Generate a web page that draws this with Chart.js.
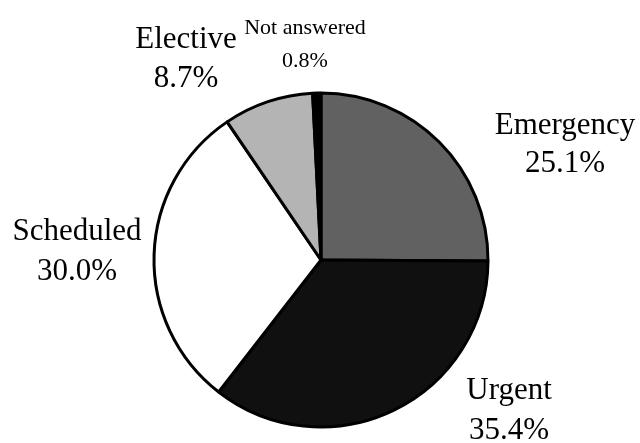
<!DOCTYPE html>
<html>
<head>
<meta charset="utf-8">
<script src="https://cdn.jsdelivr.net/npm/chart.js@4/dist/chart.umd.min.js"></script>
<style>
  html, body { margin: 0; padding: 0; background: #fff; }
  #wrap { width: 640px; height: 443px; }
</style>
</head>
<body>
<div id="wrap"><canvas id="admission-pie" width="640" height="443"></canvas></div>
<script>
// categories and shares (%), clockwise from 12 o'clock
var categories = ['Emergency', 'Urgent', 'Scheduled', 'Elective', 'Not answered'];
var shares = [25.1, 35.4, 30.0, 8.7, 0.8];
var sliceColors = ['#616161', '#101010', '#ffffff', '#b4b4b4', '#000000'];

// where each two-line label sits (centre of text) and its font size
var labelX = [565, 509, 77, 186, 305];
var labelY = [126, 391, 232, 40, 28];
var labelLineGap = [38, 40, 40, 39, 33];
var labelSize = [31, 31, 31, 31, 22];

var pieLabels = {
    id: 'pieLabels',
    afterDraw: function(chart) {
        var ctx = chart.ctx;
        ctx.save();
        ctx.fillStyle = '#000';
        ctx.textAlign = 'center';
        ctx.textBaseline = 'middle';
        categories.forEach(function(name, i) {
            ctx.font = labelSize[i] + 'px "Liberation Serif", "Times New Roman", serif';
            ctx.fillText(name, labelX[i], labelY[i]);
            ctx.fillText(shares[i].toFixed(1) + '%', labelX[i], labelY[i] + labelLineGap[i]);
        });
        ctx.restore();
    }
};

window.onload = function() {
    var ctx = document.getElementById('admission-pie');
    new Chart(ctx, {
        type: 'pie',
        data: {
            labels: categories,
            datasets: [{
                data: shares,
                backgroundColor: sliceColors,
                borderColor: '#000',
                borderWidth: 3,
                hoverOffset: 0
            }]
        },
        options: {
            responsive: false,
            animation: false,
            radius: 167,
            layout: { padding: { left: 2, right: 0, top: 77, bottom: 0 } },
            plugins: {
                legend: { display: false },
                tooltip: { enabled: false }
            }
        },
        plugins: [pieLabels]
    });
};
</script>
</body>
</html>
